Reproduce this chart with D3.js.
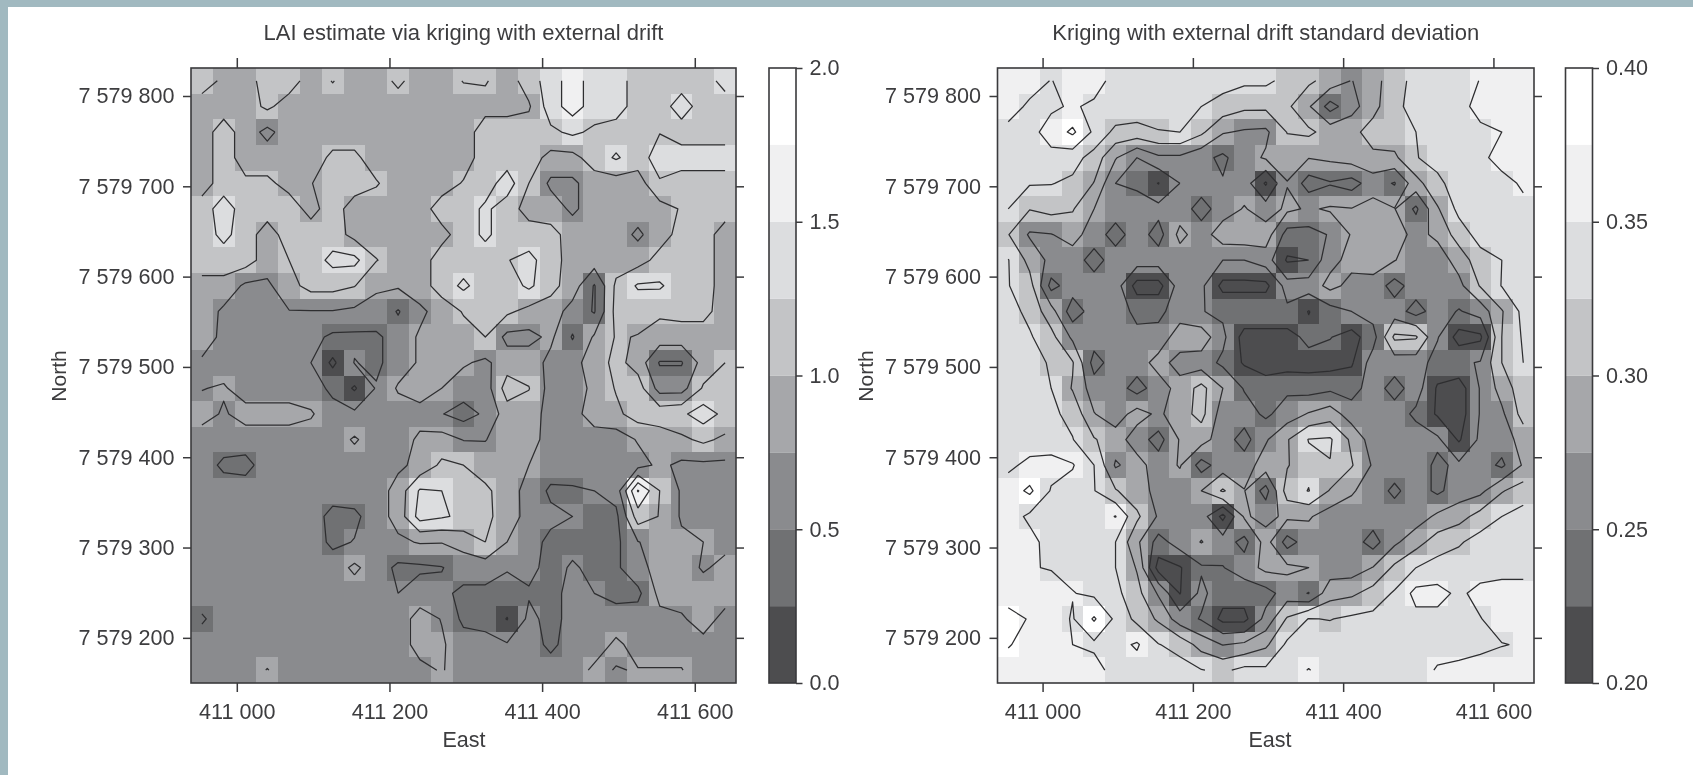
<!DOCTYPE html>
<html>
<head>
<meta charset="utf-8">
<title>LAI kriging maps</title>
<script src="https://cdn.jsdelivr.net/npm/d3@7"></script>
<style>
  html, body { margin: 0; background: #fff; }
  svg { display: block; filter: blur(0.55px); }
  text { font-family: "Liberation Sans", Arial, sans-serif; fill: #3d3d3f; }
</style>
</head>
<body>
<svg id="chart" width="1693" height="775"></svg>
<script>
// grid values, top row first
// LAI in hundredths
var laiRows = [
  [112,95,88,112,112,88,101,88,88,105,88,88,101,102,88,112,138,162,138,138,112,112,112,118,130],
  [88,88,88,105,88,88,88,88,88,88,88,88,88,92,92,97,138,162,138,138,112,112,138,112,118],
  [88,112,88,68,88,88,88,88,88,88,88,88,88,112,112,112,120,130,120,112,112,124,112,112,112],
  [88,112,88,88,88,88,105,105,88,88,88,88,88,112,112,112,92,92,112,128,112,138,138,138,138],
  [88,112,105,105,92,99,112,112,102,88,88,88,102,112,138,100,70,70,88,88,88,122,112,112,112],
  [112,138,112,112,112,92,112,88,88,88,88,112,112,130,112,90,88,70,88,88,88,90,102,112,112],
  [112,132,112,88,112,112,112,92,88,88,88,92,112,130,112,112,108,90,88,88,70,90,108,112,88],
  [112,112,112,88,100,112,132,132,101,88,88,112,112,112,124,132,112,88,88,88,90,108,112,112,88],
  [92,92,70,70,92,108,108,101,78,78,88,112,130,112,112,130,108,88,48,105,128,128,112,112,88],
  [90,70,62,62,74,74,74,70,68,48,70,85,102,112,105,92,88,65,48,108,108,105,108,108,88],
  [85,70,62,62,62,58,45,45,45,62,78,88,90,100,68,68,80,48,78,102,99,88,88,88,88],
  [72,62,62,62,62,50,20,51,45,62,78,85,78,70,88,88,68,68,85,108,90,48,48,85,100],
  [74,78,62,62,62,60,45,22,52,78,88,75,62,62,112,101,65,65,80,102,112,65,65,103,112],
  [85,72,85,85,85,78,58,55,62,62,65,51,40,54,88,88,65,65,88,94,112,115,120,138,118],
  [62,62,62,62,62,62,62,78,62,62,80,85,74,74,88,85,65,65,62,62,77,85,95,105,95],
  [62,45,42,62,62,62,62,62,74,70,82,105,100,88,85,75,62,62,62,62,66,80,70,70,70],
  [62,62,62,62,62,62,62,62,62,85,128,125,118,105,88,65,46,47,50,60,152,100,72,68,68],
  [62,62,62,62,62,62,42,45,62,85,135,128,120,108,85,68,55,50,44,44,112,99,72,68,68],
  [62,62,62,62,62,62,45,51,62,70,77,76,85,100,75,58,45,45,45,44,74,85,80,75,68],
  [62,62,62,62,62,62,62,80,62,45,46,49,60,62,52,55,44,52,46,46,66,85,88,72,82],
  [62,62,62,62,62,62,62,62,62,50,62,55,45,44,40,48,44,56,50,42,44,82,85,88,85],
  [47,62,62,62,62,62,62,62,62,62,85,74,44,42,24,55,44,56,62,62,62,68,72,85,68],
  [62,62,62,62,62,62,62,62,62,62,85,78,62,58,52,62,44,62,62,80,66,66,66,68,62],
  [62,62,62,76,62,62,62,62,62,62,68,77,62,62,62,62,62,62,80,74,76,76,76,62,62]
];
// standard deviation in thousandths
var sdRows = [
  [362,362,349,362,362,340,335,335,335,335,335,330,330,318,305,290,274,292,312,335,338,338,351,362,362],
  [362,345,346,353,345,345,340,335,332,325,315,305,305,305,278,240,265,292,318,335,338,342,358,362,365],
  [342,342,360,380,345,318,316,324,325,305,277,272,270,301,305,290,293,310,315,325,338,340,345,350,362],
  [343,343,343,335,315,277,250,270,270,257,245,265,278,285,276,280,287,295,295,324,332,338,345,358,362],
  [337,327,326,320,299,250,245,224,250,262,252,262,222,274,238,248,240,262,248,290,320,335,340,343,353],
  [325,301,308,302,275,262,262,258,262,240,262,277,262,280,272,278,276,285,276,245,297,332,340,345,345],
  [301,272,274,285,262,240,262,240,282,262,290,292,288,240,240,252,277,290,285,268,280,312,335,340,340],
  [326,292,268,262,240,262,262,262,262,262,250,250,262,222,225,268,282,288,276,262,262,285,315,325,338],
  [326,310,242,262,262,262,215,215,262,255,218,218,218,260,262,282,268,265,240,262,265,268,302,326,338],
  [335,318,285,236,262,262,244,244,262,251,245,245,245,245,224,240,250,260,262,240,262,248,260,298,332],
  [335,328,308,270,262,262,256,258,290,290,256,215,215,215,232,226,215,240,305,303,252,215,220,300,328],
  [338,335,322,302,240,262,262,285,265,262,245,222,215,214,215,215,222,262,262,262,240,245,252,300,325],
  [335,335,325,298,262,262,240,262,285,308,275,248,235,245,240,245,240,262,240,262,222,212,252,285,315],
  [335,335,330,318,276,262,285,270,290,308,262,262,245,262,277,288,262,262,262,245,222,212,252,270,310],
  [338,338,338,326,302,287,262,240,277,285,262,240,272,298,326,328,295,262,262,262,255,222,255,262,285],
  [345,356,358,352,325,272,285,262,277,240,262,262,288,298,318,324,302,272,262,262,245,255,262,245,278],
  [362,380,348,340,326,302,285,268,262,275,303,276,240,312,326,298,278,262,245,262,245,262,268,298,312],
  [362,345,342,338,335,351,305,272,262,262,218,278,268,280,278,262,262,262,262,262,280,290,310,325,335],
  [362,358,340,335,335,325,280,240,262,276,262,242,285,240,262,262,262,240,270,290,312,322,335,338,338],
  [362,351,349,343,340,325,298,215,223,247,249,262,282,280,275,262,262,276,305,325,335,338,338,340,340],
  [362,362,358,351,345,332,308,272,224,256,235,235,240,262,249,290,295,310,328,358,358,345,358,362,362],
  [385,373,362,348,378,345,318,296,262,248,218,218,258,303,326,324,330,332,338,343,343,342,349,362,362],
  [377,365,362,350,345,342,353,326,316,290,274,280,295,330,335,340,340,340,342,342,342,342,345,349,352],
  [362,362,362,362,360,340,340,338,335,326,320,332,330,340,351,340,340,340,340,340,352,355,358,362,362]
];

var eastTicks = [411000, 411200, 411400, 411600];
var northTicks = [7579200, 7579300, 7579400, 7579500, 7579600, 7579700, 7579800];
var eastRange = [410940, 411654];
var northRange = [7579150, 7579831];
var bandColors = ["#4d4d4f", "#707173", "#8a8b8e", "#a6a7aa", "#c3c4c6", "#dcdddf", "#f0f0f1", "#ffffff"];
var laiLevels = [0, 25, 50, 75, 100, 125, 150, 175, 200];
var sdLevels = [200, 225, 250, 275, 300, 325, 350, 375, 400];
var laiTicks = [0, 50, 100, 150, 200];
var sdTicks = [200, 250, 300, 350, 400];

var svg = d3.select("#chart");
var ink = "#3a3a3c";

// outer page colour, only along the top and left edge
svg.append("rect").attr("width", 1693).attr("height", 7).attr("fill", "#a1b9c0");
svg.append("rect").attr("width", 8).attr("height", 775).attr("fill", "#a1b9c0");

function spaced(v) {
  return d3.format(",")(v).replace(/,/g, " ");
}

function drawPanel(p) {
  var nRows = p.rows.length, nCols = p.rows[0].length;
  var g = svg.append("g");
  var x = d3.scaleLinear().domain(eastRange).range([p.left, p.right]);
  var y = d3.scaleLinear().domain(northRange).range([683, 68]);
  var colX = d3.scaleLinear().domain([0, nCols]).range([p.left, p.right]);
  var rowY = d3.scaleLinear().domain([0, nRows]).range([68, 683]);
  var color = d3.scaleThreshold().domain(p.levels.slice(1, -1)).range(bandColors);

  // cells
  var cells = g.append("g").attr("shape-rendering", "crispEdges");
  p.rows.forEach(function (row, r) {
    row.forEach(function (v, c) {
      cells.append("rect")
        .attr("x", colX(c)).attr("y", rowY(r))
        .attr("width", colX(c + 1) - colX(c))
        .attr("height", rowY(r + 1) - rowY(r))
        .attr("fill", color(v));
    });
  });

  // contours, cut where d3 closes them along the outer edge of the grid
  // values are negated so that saddles join the high cells, as the original does
  var flat = d3.merge(p.rows).map(function (v) { return -v; });
  var levelsNeg = p.levels.slice(1, -1).map(function (v) { return -v; });
  var contours = d3.contours().size([nCols, nRows]).thresholds(levelsNeg)(flat);
  var line = d3.line().x(function (d) { return colX(d[0]); }).y(function (d) { return rowY(d[1]); });
  function onEdge(pt) { return pt[0] <= 0 || pt[0] >= nCols || pt[1] <= 0 || pt[1] >= nRows; }
  contours.forEach(function (c) {
    c.coordinates.forEach(function (poly) {
      poly.forEach(function (ring) {
        var start = ring.findIndex(onEdge);
        var runs = [];
        if (start < 0) {
          runs.push(ring);
        } else {
          var cur = [];
          for (var i = 0; i < ring.length; i++) {
            var pt = ring[(start + i) % ring.length];
            if (onEdge(pt)) {
              if (cur.length > 1) runs.push(cur);
              cur = [];
            } else {
              cur.push(pt);
            }
          }
          if (cur.length > 1) runs.push(cur);
        }
        runs.forEach(function (run) {
          g.append("path").attr("d", line(run))
            .attr("fill", "none").attr("stroke", "#2e2e30")
            .attr("stroke-width", 1.25).attr("stroke-linejoin", "round");
        });
      });
    });
  });

  // frame and axes
  g.append("rect").attr("x", p.left).attr("y", 68)
    .attr("width", p.right - p.left).attr("height", 615)
    .attr("fill", "none").attr("stroke", ink).attr("stroke-width", 1.6);

  var bottom = g.append("g").attr("transform", "translate(0,683)")
    .call(d3.axisBottom(x).tickValues(eastTicks).tickSize(9).tickPadding(12).tickFormat(spaced));
  var top = g.append("g").attr("transform", "translate(0,68)")
    .call(d3.axisTop(x).tickValues(eastTicks).tickSize(10).tickFormat(""));
  var left = g.append("g").attr("transform", "translate(" + p.left + ",0)")
    .call(d3.axisLeft(y).tickValues(northTicks).tickSize(8).tickPadding(8.5).tickFormat(spaced));
  var right = g.append("g").attr("transform", "translate(" + p.right + ",0)")
    .call(d3.axisRight(y).tickValues(northTicks).tickSize(8).tickFormat(""));

  // colour key
  var keyY = d3.scaleLinear().domain([p.levels[0], p.levels[p.levels.length - 1]]).range([683, 68]);
  d3.pairs(p.levels).forEach(function (pair, i) {
    g.append("rect").attr("x", p.keyLeft).attr("y", keyY(pair[1]))
      .attr("width", 27).attr("height", keyY(pair[0]) - keyY(pair[1]))
      .attr("fill", bandColors[i]);
  });
  g.append("rect").attr("x", p.keyLeft).attr("y", 68).attr("width", 27).attr("height", 615)
    .attr("fill", "none").attr("stroke", ink).attr("stroke-width", 1.6);
  var key = g.append("g").attr("transform", "translate(" + (p.keyLeft + 27) + ",0)")
    .call(d3.axisRight(keyY).tickValues(p.keyTicks).tickSize(6.5).tickPadding(7).tickFormat(p.keyFormat));

  [bottom, top, left, right, key].forEach(function (a) {
    a.select(".domain").remove();
    a.selectAll("line").attr("stroke", ink).attr("stroke-width", 1.5);
    a.selectAll("text").attr("font-size", 21.6).attr("font-family", null).attr("fill", null);
  });

  // titles
  var mid = (p.left + p.right) / 2;
  g.append("text").attr("x", mid).attr("y", 40).attr("text-anchor", "middle")
    .attr("font-size", 22).text(p.title);
  g.append("text").attr("x", p.eastX).attr("y", 747).attr("text-anchor", "middle")
    .attr("font-size", 21.5).text("East");
  g.append("text").attr("transform", "translate(" + p.northX + ",376) rotate(-90)")
    .attr("text-anchor", "middle").attr("font-size", 21).text("North");
}

drawPanel({
  rows: laiRows, levels: laiLevels, left: 191, right: 736, keyLeft: 769, eastX: 464, northX: 65.5,
  keyTicks: laiTicks, keyFormat: function (v) { return d3.format(".1f")(v / 100); },
  title: "LAI estimate via kriging with external drift"
});
drawPanel({
  rows: sdRows, levels: sdLevels, left: 997.5, right: 1534, keyLeft: 1565.5, eastX: 1270, northX: 872.5,
  keyTicks: sdTicks, keyFormat: function (v) { return d3.format(".2f")(v / 1000); },
  title: "Kriging with external drift standard deviation"
});
</script>
</body>
</html>
